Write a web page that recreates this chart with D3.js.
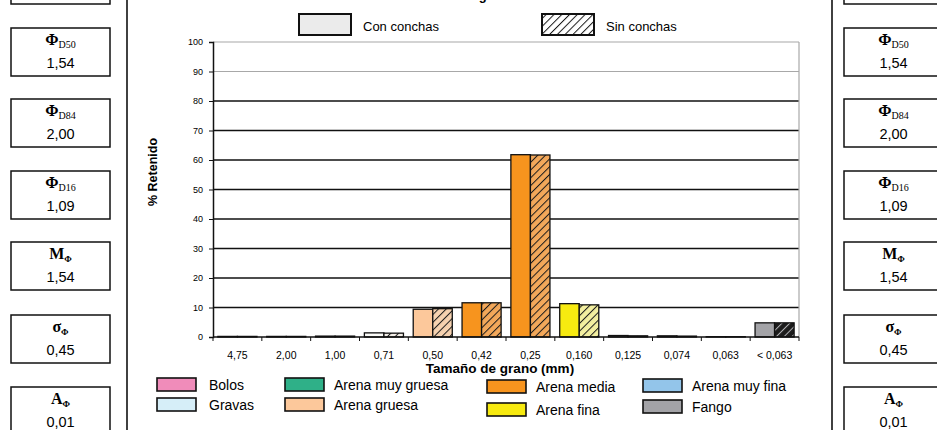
<!DOCTYPE html>
<html>
<head>
<meta charset="utf-8">
<script src="https://cdn.jsdelivr.net/npm/d3@7/dist/d3.min.js"></script>
<style>
  html, body { margin: 0; padding: 0; background: #fff; }
  svg { display: block; }
  text { font-family: "Liberation Sans", Arial, sans-serif; fill: #000; }
  .serif { font-family: "Liberation Serif", "Times New Roman", serif; }
</style>
</head>
<body>
<svg id="chart" width="937" height="430"></svg>
<script>
// Sieve sizes (mm) and % retained per size class
const categories = ["4,75", "2,00", "1,00", "0,71", "0,50", "0,42", "0,25", "0,160", "0,125", "0,074", "0,063", "< 0,063"];
const conConchas = [0.2, 0.2, 0.3, 1.4, 9.4, 11.6, 61.8, 11.3, 0.5, 0.4, 0.1, 4.8];
const sinConchas = [0.2, 0.2, 0.3, 1.3, 9.6, 11.6, 61.7, 10.9, 0.4, 0.3, 0.1, 4.8];
const yTicks = [0, 10, 20, 30, 40, 50, 60, 70, 80, 90, 100];

// Granulometric classes in the bottom legend
const classNames = ["Bolos", "Gravas", "Arena muy gruesa", "Arena gruesa", "Arena media", "Arena fina", "Arena muy fina", "Fango"];

// Granulometric parameters shown in the side panels
const paramSymbols = ["Φ", "Φ", "Φ", "M", "σ", "A"];
const paramSubs = ["D50", "D84", "D16", "Φ", "Φ", "Φ"];
const paramValues = ["1,54", "2,00", "1,09", "1,54", "0,45", "0,01"];

// Fill colours per class, and per bar (plain / hatched background)
const classFill = ["#f08cba", "#d6eef8", "#2fb088", "#fcc89b", "#f7941e", "#f7ea10", "#93c5ea", "#a3a3a7"];
const barFillCon = ["#333", "#333", "#333", "#fbfbf8", "#fcc89b", "#f7941e", "#f7941e", "#f7ea10", "#bbb", "#bbb", "#333", "#a3a3a7"];
const barFillSin = ["#333", "#333", "#333", "#f4efe8", "#f6d2b0", "#f3a85a", "#f3a85a", "#f3efa0", "#bbb", "#bbb", "#333", "#1c1c1c"];

const svg = d3.select("#chart");

// ---- hatch patterns (diagonal ///) ----
const defs = svg.append("defs");
const hatchColours = Array.from(new Set(barFillSin.concat(["#ffffff"])));
const hatchId = c => "hatch" + c.replace("#", "");
hatchColours.forEach(c => {
  const dark = c === "#1c1c1c";
  const p = defs.append("pattern")
    .attr("id", hatchId(c))
    .attr("patternUnits", "userSpaceOnUse")
    .attr("width", 5.5).attr("height", 5.5)
    .attr("patternTransform", "rotate(45)");
  p.append("rect").attr("width", 5.5).attr("height", 5.5).attr("fill", c);
  p.append("line").attr("x1", 0).attr("y1", 0).attr("x2", 0).attr("y2", 5.5)
    .attr("stroke", dark ? "#b5b5b8" : "#1a1a1a").attr("stroke-width", dark ? 2 : 2);
});

// ---- frame lines ----
svg.append("line").attr("x1", 127).attr("x2", 127).attr("y1", 0).attr("y2", 430)
  .attr("stroke", "#111").attr("stroke-width", 1.6);
svg.append("line").attr("x1", 832).attr("x2", 832).attr("y1", 0).attr("y2", 430)
  .attr("stroke", "#111").attr("stroke-width", 1.6);

// ---- title (top edge) ----
svg.append("text").attr("x", 486).attr("y", 0).attr("text-anchor", "middle")
  .attr("font-size", 13).attr("font-weight", "bold").text("Distribución granulométrica");

// ---- side parameter panels ----
const boxTops = [28, 99, 171, 242, 315, 387];
function drawPanels(x0) {
  const g = svg.append("g");
  g.append("rect").attr("x", x0).attr("y", -40).attr("width", 99).attr("height", 44)
    .attr("fill", "#fff").attr("stroke", "#111").attr("stroke-width", 1.5);
  paramSymbols.forEach((s, i) => {
    const y = boxTops[i];
    g.append("rect").attr("x", x0).attr("y", y).attr("width", 99).attr("height", 48)
      .attr("fill", "#fff").attr("stroke", "#111").attr("stroke-width", 1.5);
    const t = g.append("text").attr("class", "serif").attr("x", x0 + 49.5).attr("y", y + 17)
      .attr("text-anchor", "middle");
    t.append("tspan").attr("font-size", 16).attr("font-weight", "bold").text(s);
    t.append("tspan").attr("font-size", i < 3 ? 10 : 9).attr("font-weight", i < 3 ? "normal" : "bold")
      .attr("dy", 3).text(paramSubs[i]);
    g.append("text").attr("x", x0 + 49.5).attr("y", y + 40).attr("text-anchor", "middle")
      .attr("font-size", 14.5).text(paramValues[i]);
  });
}
drawPanels(11);
drawPanels(844);

// ---- plot area ----
const plotLeft = 213, plotRight = 799, plotTop = 42, plotBottom = 337;
const y = d3.scaleLinear().domain([0, 100]).range([plotBottom, plotTop]);
const x = d3.scaleBand().domain(categories).range([plotLeft, plotRight])
  .paddingInner(0.2).paddingOuter(0.1);
const xs = d3.scaleBand().domain(["con", "sin"]).range([0, x.bandwidth()]);

// grid lines
svg.append("g").selectAll("line").data(yTicks.filter(d => d > 0)).join("line")
  .attr("x1", plotLeft).attr("x2", plotRight)
  .attr("y1", d => y(d)).attr("y2", d => y(d))
  .attr("stroke", d => d >= 90 ? "#a8a8a8" : "#111")
  .attr("stroke-width", d => d >= 90 ? 1.2 : 1.6);
svg.append("line").attr("x1", plotRight).attr("x2", plotRight)
  .attr("y1", plotTop).attr("y2", plotBottom).attr("stroke", "#a8a8a8").attr("stroke-width", 1.2);

// y axis
const yAxis = svg.append("g").attr("transform", `translate(${plotLeft},0)`)
  .call(d3.axisLeft(y).tickValues(yTicks).tickSize(4).tickPadding(6).tickFormat(d3.format("d")));
yAxis.select(".domain").attr("stroke", "#111").attr("stroke-width", 1.5);
yAxis.selectAll(".tick line").attr("stroke", "#111");
yAxis.selectAll("text").attr("font-size", 9).attr("fill", "#222");

// y axis title
svg.append("text").attr("transform", "translate(157,172) rotate(-90)")
  .attr("text-anchor", "middle").attr("font-size", 12.5).attr("font-weight", "bold").text("% Retenido");

// bars
const barG = svg.append("g");
categories.forEach((c, i) => {
  barG.append("rect")
    .attr("x", x(c) + xs("con")).attr("width", xs.bandwidth())
    .attr("y", y(conConchas[i])).attr("height", y(0) - y(conConchas[i]))
    .attr("fill", barFillCon[i]).attr("stroke", "#111").attr("stroke-width", 1.3);
  barG.append("rect")
    .attr("x", x(c) + xs("sin")).attr("width", xs.bandwidth())
    .attr("y", y(sinConchas[i])).attr("height", y(0) - y(sinConchas[i]))
    .attr("fill", `url(#${hatchId(barFillSin[i])})`).attr("stroke", "#111").attr("stroke-width", 1.3);
});

// x axis baseline and boundary ticks
const xAxisG = svg.append("g");
xAxisG.append("line").attr("x1", plotLeft).attr("x2", plotRight)
  .attr("y1", plotBottom).attr("y2", plotBottom).attr("stroke", "#111").attr("stroke-width", 1.5);
const boundaries = d3.range(categories.length + 1).map(i => plotLeft + i * x.step());
xAxisG.selectAll("line.tk").data(boundaries).join("line").attr("class", "tk")
  .attr("x1", d => d).attr("x2", d => d).attr("y1", plotBottom).attr("y2", plotBottom + 4)
  .attr("stroke", "#111");
xAxisG.selectAll("text").data(categories).join("text")
  .attr("x", d => x(d) + x.bandwidth() / 2).attr("y", 359)
  .attr("text-anchor", "middle").attr("font-size", 10.5).attr("fill", "#222").text(d => d);

// x axis title
svg.append("text").attr("x", 500).attr("y", 373).attr("text-anchor", "middle")
  .attr("font-size", 13.5).attr("font-weight", "bold").text("Tamaño de grano (mm)");

// ---- series legend (top) ----
const topLegend = [
  { label: "Con conchas", x: 299, fill: "#ebebeb" },
  { label: "Sin conchas", x: 542, fill: `url(#${hatchId("#ffffff")})` }
];
topLegend.forEach(d => {
  svg.append("rect").attr("x", d.x).attr("y", 14).attr("width", 52).attr("height", 21)
    .attr("fill", d.fill).attr("stroke", "#111").attr("stroke-width", 2);
  svg.append("text").attr("x", d.x + 64).attr("y", 31).attr("font-size", 13).text(d.label);
});

// ---- class legend (bottom) ----
const legendCols = [157, 285, 487, 643];
const legendPos = [
  { c: 0, y: 378 }, { c: 0, y: 398 },
  { c: 1, y: 378 }, { c: 1, y: 398 },
  { c: 2, y: 380 }, { c: 2, y: 403 },
  { c: 3, y: 379 }, { c: 3, y: 400 }
];
classNames.forEach((name, k) => {
  const p = legendPos[k];
  const lx = legendCols[p.c];
  svg.append("rect").attr("x", lx).attr("y", p.y).attr("width", 39).attr("height", 13)
    .attr("fill", classFill[k]).attr("stroke", "#111").attr("stroke-width", 1.6);
  svg.append("text").attr("x", lx + (p.c === 0 ? 52 : 49)).attr("y", p.y + 12)
    .attr("font-size", 14).text(name);
});
</script>
</body>
</html>
